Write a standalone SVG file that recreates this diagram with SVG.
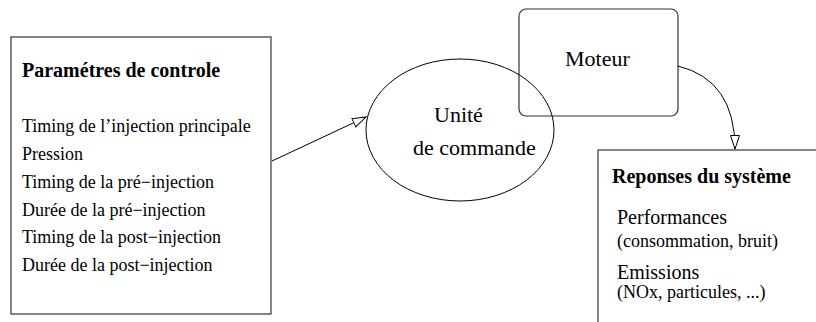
<svg xmlns="http://www.w3.org/2000/svg" width="816" height="322" viewBox="0 0 816 322">
<style>
  .box { fill: none; stroke: #333; stroke-width: 1.2; }
  text { font-family: 'Liberation Serif', 'DejaVu Serif', serif; fill: #000; }
  .title { font-size: 20px; font-weight: bold; }
  .item { font-size: 18px; }
  .big { font-size: 22px; }
  .resp { font-size: 20px; }
  .sub { font-size: 18px; }
  .conn { fill: none; stroke: #000; stroke-width: 1; }
</style>
<defs>
  <marker id="openArrow" markerWidth="16" markerHeight="12" refX="14" refY="5" orient="auto" markerUnits="userSpaceOnUse">
    <path d="M0.5,0.5 L14,5 L0.5,9.5 Z" fill="#fff" stroke="#000" stroke-width="1"/>
  </marker>
</defs>
<rect width="816" height="322" fill="#fff"/>

<g id="parametres">
  <rect class="box" x="11" y="37" width="260" height="277"/>
  <text class="title" x="22" y="77">Paramétres de controle</text>
  <text class="item" x="22" y="132">Timing de l’injection principale</text>
  <text class="item" x="22" y="160">Pression</text>
  <text class="item" x="22" y="187.5">Timing de la pré−injection</text>
  <text class="item" x="22" y="215.5">Durée de la pré−injection</text>
  <text class="item" x="22" y="243">Timing de la post−injection</text>
  <text class="item" x="22" y="271">Durée de la post−injection</text>
</g>

<g id="moteur">
  <rect class="box" x="519" y="9" width="159" height="107" rx="7" ry="7" stroke="#000"/>
  <text class="big" x="565" y="66">Moteur</text>
</g>

<g id="unite">
  <ellipse cx="460" cy="130" rx="94" ry="71" fill="none" stroke="#000" stroke-width="1"/>
  <text class="big" x="434" y="122">Unité</text>
  <text class="big" x="413" y="155">de commande</text>
</g>

<g id="reponses">
  <rect class="box" x="598" y="150" width="240" height="200" stroke="#000"/>
  <text class="title" x="612" y="183">Reponses du système</text>
  <text class="resp" x="617" y="224">Performances</text>
  <text class="sub" x="617" y="246.5">(consommation, bruit)</text>
  <text class="resp" x="617" y="279">Emissions</text>
  <text class="sub" x="617" y="298">(NOx, particules, ...)</text>
</g>

<g id="connectors">
  <path class="conn" d="M272,161 L366,117" marker-end="url(#openArrow)"/>
  <path class="conn" d="M678,66 Q735,80 735,149" marker-end="url(#openArrow)"/>
</g>
</svg>
